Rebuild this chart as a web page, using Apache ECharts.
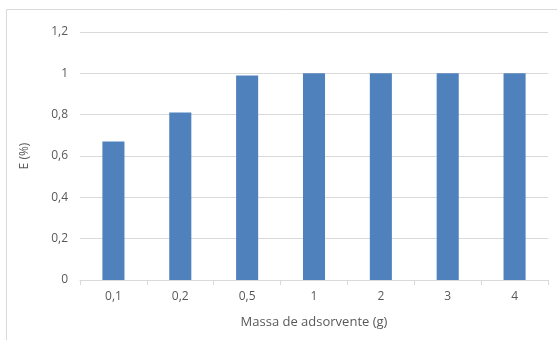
<!DOCTYPE html>
<html>
<head>
<meta charset="utf-8">
<script src="https://cdn.jsdelivr.net/npm/echarts@6/dist/echarts.min.js"></script>
<style>
  html, body { margin: 0; padding: 0; background: #fff; }
  #chart { width: 557px; height: 340px; }
</style>
</head>
<body>
<div id="chart"></div>
<script>
// Adsorbent mass (g) and removal efficiency E
const categories = ['0,1', '0,2', '0,5', '1', '2', '3', '4'];
const efficiency = [0.67, 0.81, 0.99, 1, 1, 1, 1];
const yTicks = { min: 0, max: 1.2, interval: 0.2 };

const textColor = '#595959';
const font = '"Open Sans", "Liberation Sans", sans-serif';

const chart = echarts.init(document.getElementById('chart'), null, { renderer: 'canvas' });
chart.setOption({
  animation: false,
  backgroundColor: '#fff',
  graphic: [{
    type: 'rect',
    shape: { x: 6.5, y: 9.5, width: 560, height: 340 },
    style: { fill: 'none', stroke: '#d9d9d9', lineWidth: 1 },
    silent: true
  }],
  grid: { left: 80, right: 9, top: 32, bottom: 60 },
  xAxis: {
    type: 'category',
    data: categories,
    name: 'Massa de adsorvente (g)',
    nameLocation: 'middle',
    nameGap: 36,
    nameTextStyle: { color: textColor, fontSize: 13, fontFamily: font },
    axisLine: { show: true, lineStyle: { color: '#d9d9d9' } },
    axisTick: { show: true, length: 5, alignWithLabel: false, lineStyle: { color: '#d9d9d9' } },
    axisLabel: { color: textColor, fontSize: 12, fontFamily: font, margin: 11 }
  },
  yAxis: {
    type: 'value',
    min: yTicks.min,
    max: yTicks.max,
    interval: yTicks.interval,
    name: 'E (%)',
    nameLocation: 'middle',
    nameGap: 49,
    nameTextStyle: { color: textColor, fontSize: 12, fontFamily: font },
    axisLine: { show: false },
    axisTick: { show: false },
    splitLine: { lineStyle: { color: '#d9d9d9' } },
    axisLabel: {
      color: textColor, fontSize: 12, fontFamily: font, margin: 12,
      formatter: v => String(Math.round(v * 10) / 10).replace('.', ',')
    }
  },
  series: [{
    type: 'bar',
    data: efficiency,
    barWidth: '33%',
    itemStyle: { color: '#4f81bd' }
  }]
});
</script>
</body>
</html>
